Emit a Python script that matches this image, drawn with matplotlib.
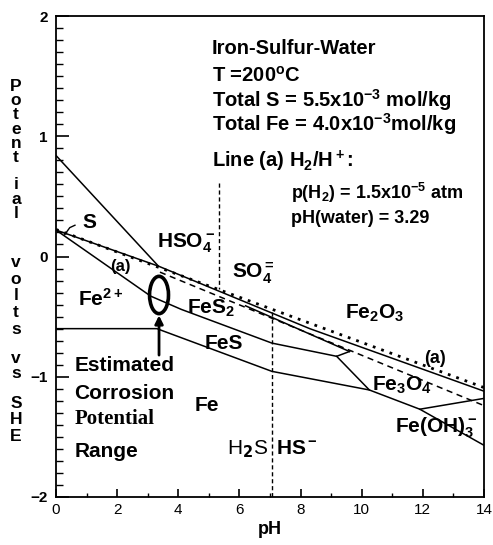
import matplotlib
matplotlib.use("Agg")
import matplotlib.pyplot as plt
from matplotlib.patches import Ellipse

plt.rcParams['font.family'] = ['Liberation Sans', 'DejaVu Sans']
plt.rcParams['mathtext.fontset'] = 'custom'
plt.rcParams['mathtext.rm'] = 'Liberation Sans:bold'
plt.rcParams['mathtext.bf'] = 'Liberation Sans:bold'
plt.rcParams['mathtext.it'] = 'Liberation Sans:bold'
plt.rcParams['mathtext.default'] = 'bf'

# ---- data (pH, E in V vs SHE) ----
line_a_x = [0.0, 14.0]                 # H2/H+ line (a), dotted
line_a_y = [0.225, -1.09]
upper_x = [0.0, 3.35, 8.3, 14.0]        # upper solid boundary
upper_y = [0.22, -0.08, -0.60, -1.12]
dashed_x = [3.4, 14.0]                  # dashed boundary under (a)
dashed_y = [-0.13, -1.24]
steep_top_x = [0.0, 3.35]               # line from E=0.84 at pH 0
steep_top_y = [0.84, -0.08]
fes2_x = [6.2, 9.6]                     # FeS2 / oxide boundary
fes2_y = [-0.41, -0.79]
c_x = [0.0, 3.1, 4.1, 7.06, 9.18, 9.6]  # Fe2+/FeS2, FeS2/FeS
c_y = [0.22, -0.33, -0.44, -0.72, -0.83, -0.79]
fes_mag_x = [9.18, 10.25]               # FeS / Fe3O4
fes_mag_y = [-0.83, -1.11]
d_x = [0.0, 3.3, 7.06, 10.25, 11.9, 14.0]   # Fe2+/Fe, FeS/Fe, Fe3O4/Fe, Fe(OH)3-/Fe
d_y = [-0.60, -0.60, -0.955, -1.11, -1.27, -1.57]
mag_hyd_x = [11.9, 14.0]                # Fe3O4 / Fe(OH)3-
mag_hyd_y = [-1.27, -1.18]
hso4_so4_x = [5.33, 5.33]               # HSO4- / SO4=
hso4_so4_y = [0.61, -0.27]
h2s_hs_x = [7.06, 7.06]                 # H2S / HS-
h2s_hs_y = [-0.46, -2.0]
ellipse_center = (3.37, -0.32)
ellipse_size = (0.62, 0.31)
arrow_x = 3.37
arrow_y = [-0.82, -0.49]

x_ticks = [0, 2, 4, 6, 8, 10, 12, 14]
y_ticks = [-2, -1, 0, 1, 2]

W, H = 493, 545
fig = plt.figure(figsize=(W / 100, H / 100), dpi=100)
ax = fig.add_axes([56 / W, (H - 497) / H, (484 - 56) / W, (497 - 16) / H])
ax.set_xlim(0, 14)
ax.set_ylim(-2, 2)

lw = 1.1
k = 'black'
ax.plot(line_a_x, line_a_y, color=k, lw=2.0, linestyle=(0, (1, 2.2)))
ax.plot(upper_x, upper_y, color=k, lw=lw)
ax.plot(dashed_x, dashed_y, color=k, lw=lw, linestyle=(0, (4, 3)))
ax.plot(steep_top_x, steep_top_y, color=k, lw=lw)
ax.plot(fes2_x, fes2_y, color=k, lw=lw)
ax.plot(c_x, c_y, color=k, lw=lw)
ax.plot(fes_mag_x, fes_mag_y, color=k, lw=lw)
ax.plot(d_x, d_y, color=k, lw=lw)
ax.plot(mag_hyd_x, mag_hyd_y, color=k, lw=lw)
ax.plot(hso4_so4_x, hso4_so4_y, color=k, lw=1.0, linestyle=(0, (3, 2)))
ax.plot(h2s_hs_x, h2s_hs_y, color=k, lw=1.0, linestyle=(0, (3, 2)))

ax.add_patch(Ellipse(ellipse_center, ellipse_size[0], ellipse_size[1],
                     fill=False, lw=2.6, color=k))
ax.annotate('', xy=(arrow_x, arrow_y[1]), xytext=(arrow_x, arrow_y[0]),
            arrowprops=dict(arrowstyle='-|>', lw=2.0, color=k,
                            mutation_scale=12, shrinkA=0, shrinkB=0))

# S leader
ax.plot([0.28, 0.45, 0.62], [0.18, 0.24, 0.26], color=k, lw=1.0)

fs = 14.5
tx = 5.1
ax.text(tx, 1.73, 'Iron-Sulfur-Water', fontsize=fs, fontweight='bold', va='center')
ax.text(tx, 1.50, 'T =200$^{\\rm o}$C', fontsize=fs, fontweight='bold', va='center')
ax.text(tx, 1.30, 'Total S = 5.5x10$^{-3}$ mol/kg', fontsize=fs, fontweight='bold', va='center')
ax.text(tx, 1.10, 'Total Fe = 4.0x10$^{-3}$mol/kg', fontsize=fs, fontweight='bold', va='center')
ax.text(tx, 0.79, 'Line (a) H$_2$/H$^+$:', fontsize=fs, fontweight='bold', va='center')
ax.text(7.7, 0.53, 'p(H$_2$) = 1.5x10$^{-5}$ atm', fontsize=13, fontweight='bold', va='center')
ax.text(7.7, 0.32, 'pH(water) = 3.29', fontsize=13, fontweight='bold', va='center')

lf = 15
ax.text(0.85, 0.28, 'S', fontsize=lf, fontweight='bold', va='center')
ax.text(1.78, -0.08, '(a)', fontsize=12, fontweight='bold', va='center')
ax.text(3.3, 0.11, 'HSO$_4^-$', fontsize=lf, fontweight='bold', va='center')
ax.text(5.75, -0.14, 'SO$_4^=$', fontsize=lf, fontweight='bold', va='center')
ax.text(0.72, -0.35, 'Fe$^{2+}$', fontsize=lf, fontweight='bold', va='center')
ax.text(4.3, -0.43, 'FeS$_2$', fontsize=lf, fontweight='bold', va='center')
ax.text(4.85, -0.72, 'FeS', fontsize=lf, fontweight='bold', va='center')
ax.text(4.55, -1.24, 'Fe', fontsize=lf, fontweight='bold', va='center')
ax.text(0.6, -0.91, 'Estimated', fontsize=lf, fontweight='bold', va='center')
ax.text(0.6, -1.14, 'Corrosion', fontsize=lf, fontweight='bold', va='center')
ax.text(0.6, -1.35, 'Potential', fontsize=lf, fontweight='bold', va='center',
        family='Liberation Serif')
ax.text(0.6, -1.62, 'Range', fontsize=lf, fontweight='bold', va='center')
ax.text(5.6, -1.60, 'H$_2$S', fontsize=lf, va='center', fontweight='normal',
        math_fontfamily='dejavusans')
ax.text(7.2, -1.60, 'HS$^{\\bf -}$', fontsize=lf, fontweight='bold', va='center')
ax.text(9.45, -0.47, 'Fe$_2$O$_3$', fontsize=lf, fontweight='bold', va='center')
ax.text(12.05, -0.85, '(a)', fontsize=13, fontweight='bold', va='center')
ax.text(10.33, -1.07, 'Fe$_3$O$_4$', fontsize=lf, fontweight='bold', va='center')
ax.text(11.1, -1.42, 'Fe(OH)$_3^-$', fontsize=lf, fontweight='bold', va='center')

ax.set_xticks(x_ticks)
ax.set_xticklabels([str(v) for v in x_ticks])
ax.set_yticks(y_ticks)
ax.set_yticklabels([str(v).replace('-', '\u2212') for v in y_ticks], fontweight='bold')
ax.set_xticks([1, 3, 5, 7, 9, 11, 13], minor=True)
ax.set_yticks([v / 10 for v in range(-20, 21) if v % 10 != 0], minor=True)
ax.tick_params(axis='both', which='both', direction='in', labelsize=11)
ax.tick_params(axis='y', which='major', length=9, width=1.2, pad=6)
ax.tick_params(axis='y', which='minor', length=5, width=1.0)
ax.tick_params(axis='x', which='major', length=6, width=1.2, pad=4)
ax.tick_params(axis='x', which='minor', length=3, width=1.0)
for s in ax.spines.values():
    s.set_linewidth(1.3)

fig.text(270 / W, 1 - 530 / H, 'pH', fontsize=13, fontweight='bold', ha='center', va='center')

# stacked y-axis label: word groups, one letter per line
ylabel_groups = ['Potent', 'ial', 'volts', 'vs', 'SHE']
ylabel_center_px = [122, 199, 296, 366, 420]
ylabel_spacing = [0.92, 0.95, 1.15, 1.0, 1.1]
for word, py, ls in zip(ylabel_groups, ylabel_center_px, ylabel_spacing):
    fig.text(16 / W, 1 - py / H, '\n'.join(word), fontsize=12.5, fontweight='bold',
             ha='center', va='center', linespacing=ls, multialignment='center')

fig.savefig('out.png', dpi=100)
